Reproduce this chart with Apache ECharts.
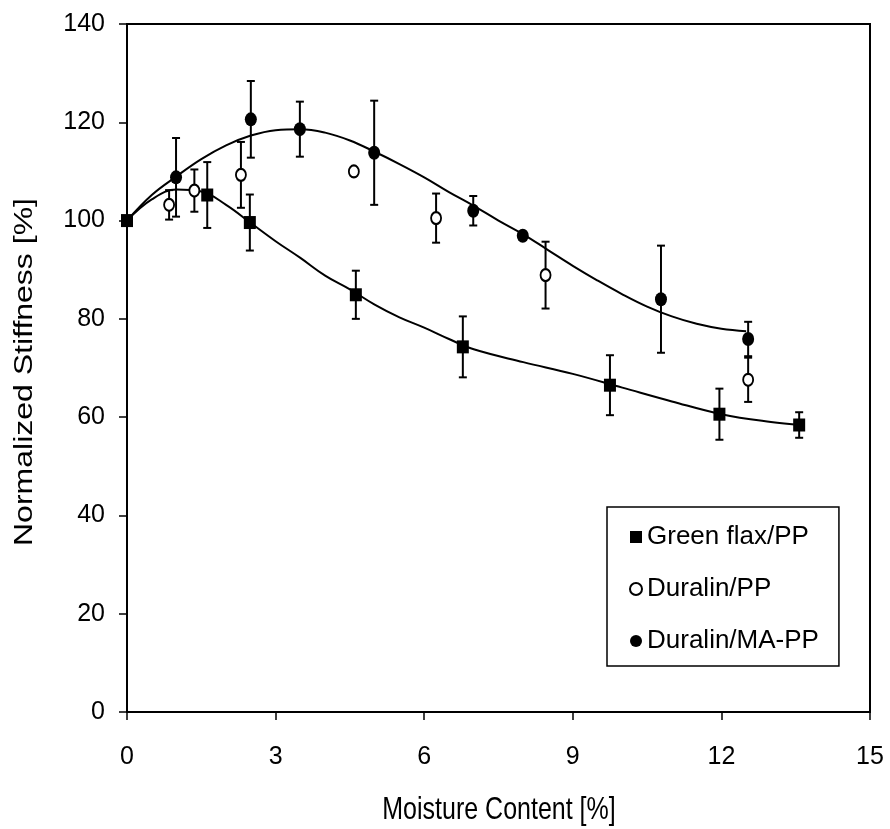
<!DOCTYPE html>
<html>
<head>
<meta charset="utf-8">
<script src="https://cdn.jsdelivr.net/npm/echarts@6/dist/echarts.min.js"></script>
<style>
html,body{margin:0;padding:0;background:#fff;}
#chart{width:890px;height:829px;}
</style>
</head>
<body>
<div id="chart"></div>
<script>
// X / Y tick labels
const xTicks = [0, 3, 6, 9, 12, 15];
const yTicks = [0, 20, 40, 60, 80, 100, 120, 140];
const xTitle = 'Moisture Content [%]';
const yTitle = 'Normalized Stiffness [%]';

// Green flax/PP (filled squares)
const flaxX   = [0, 1.62, 2.48, 4.62, 6.78, 9.75, 11.96, 13.57];
const flaxY   = [100, 105.2, 99.6, 84.9, 74.3, 66.5, 60.6, 58.4];
const flaxErr = [0, 6.7, 5.7, 4.9, 6.2, 6.1, 5.2, 2.6];

// Duralin/PP (open circles)
const durX   = [0.85, 1.36, 2.30, 4.58, 6.24, 8.45, 12.54];
const durY   = [103.2, 106.1, 109.3, 110, 100.5, 88.9, 67.6];
const durErr = [3, 4.3, 6.7, 0, 5, 6.8, 4.5];

// Duralin/MA-PP (filled circles)
const maX   = [0.99, 2.50, 3.49, 4.99, 6.99, 7.99, 10.78, 12.54];
const maY   = [108.8, 120.6, 118.6, 113.8, 102, 96.9, 84, 75.9];
const maErr = [8, 7.8, 5.6, 10.6, 3, 0.8, 10.9, 3.5];

// Trend curves
const flaxFitX = [0, 0.5, 1, 1.5, 2, 2.5, 3, 3.5, 4, 4.5, 5, 5.5, 6, 6.5, 7, 8, 9, 10, 11, 12, 13, 13.6];
const flaxFitY = [100, 104.3, 106.3, 105.9, 103.2, 99.5, 95.8, 92.4, 88.8, 86, 82.9, 80.3, 78.2, 75.9, 73.8, 71.2, 68.8, 66.0, 63.2, 60.6, 59.0, 58.4];
const maFitX = [0, 0.5, 1, 1.5, 2, 2.5, 3, 3.5, 4, 4.5, 5, 5.5, 6, 6.5, 7, 7.5, 8, 8.5, 9, 9.5, 10, 10.5, 11, 11.5, 12, 12.5];
const maFitY = [100, 105.2, 109, 112.5, 115.3, 117.3, 118.4, 118.6, 117.9, 116.3, 114, 111.5, 108.8, 105.8, 103, 100, 97.2, 94, 90.8, 87.8, 85, 82.5, 80.5, 79, 78, 77.5];

const zip = (a, b) => a.map((v, i) => [v, b[i]]);
const zip3 = (a, b, c) => a.map((v, i) => [v, b[i], c[i]]);

const FONT = 'Liberation Sans, Arial, sans-serif';

function errRender(params, api) {
  const x = api.value(0), y = api.value(1), e = api.value(2);
  if (!e) return { type: 'group', children: [] };
  const top = api.coord([x, y + e]);
  const bot = api.coord([x, y - e]);
  const hw = 4;
  const st = { stroke: '#000', lineWidth: 2 };
  return {
    type: 'group',
    children: [
      { type: 'line', shape: { x1: top[0], y1: top[1], x2: bot[0], y2: bot[1] }, style: st },
      { type: 'line', shape: { x1: top[0] - hw, y1: top[1], x2: top[0] + hw, y2: top[1] }, style: st },
      { type: 'line', shape: { x1: bot[0] - hw, y1: bot[1], x2: bot[0] + hw, y2: bot[1] }, style: st }
    ]
  };
}

const chart = echarts.init(document.getElementById('chart'), null, { renderer: 'canvas' });
chart.setOption({
  animation: false,
  backgroundColor: '#fff',
  textStyle: { fontFamily: FONT, color: '#000' },
  grid: {
    left: 127, right: 20, top: 24, bottom: 117,
    show: true, borderColor: '#000', borderWidth: 2, backgroundColor: 'transparent'
  },
  graphic: [
    {
      type: 'text', x: 499, y: 810, scaleY: 1.28,
      style: { text: xTitle, font: '25px "Liberation Sans", Arial, sans-serif', fill: '#000',
               textAlign: 'center', textVerticalAlign: 'middle', align: 'center', verticalAlign: 'middle' }
    },
    {
      type: 'text', x: 25, y: 372, rotation: Math.PI / 2, scaleX: 1.28,
      style: { text: yTitle, font: '25px "Liberation Sans", Arial, sans-serif', fill: '#000',
               textAlign: 'center', textVerticalAlign: 'middle', align: 'center', verticalAlign: 'middle' }
    }
  ],
  legend: {
    orient: 'vertical',
    left: 607, top: 507,
    data: [
      { name: 'Green flax/PP', icon: 'rect', itemStyle: { color: '#000', opacity: 1 } },
      { name: 'Duralin/PP', icon: 'circle', itemStyle: { color: '#fff', borderColor: '#000', borderWidth: 2, opacity: 1 } },
      { name: 'Duralin/MA-PP', icon: 'circle', itemStyle: { color: '#000', opacity: 1 } }
    ],
    itemWidth: 12, itemHeight: 12, itemGap: 26,
    padding: [17, 20, 12, 22],
    borderColor: '#000', borderWidth: 1.5,
    textStyle: { fontFamily: FONT, fontSize: 26, color: '#000' }
  },
  xAxis: {
    type: 'value',
    min: xTicks[0], max: xTicks[xTicks.length - 1], interval: xTicks[1] - xTicks[0],
    axisLine: { lineStyle: { color: '#000', width: 2 } },
    axisTick: { show: true, inside: false, length: 8, lineStyle: { color: '#000', width: 1.5 } },
    axisLabel: { fontFamily: FONT, fontSize: 25, color: '#000', margin: 33 },
    splitLine: { show: false }
  },
  yAxis: {
    type: 'value',
    min: yTicks[0], max: yTicks[yTicks.length - 1], interval: yTicks[1] - yTicks[0],
    axisLine: { lineStyle: { color: '#000', width: 2 } },
    axisTick: { show: true, inside: false, length: 8, lineStyle: { color: '#000', width: 1.5 } },
    axisLabel: { fontFamily: FONT, fontSize: 25, color: '#000', margin: 22 },
    splitLine: { show: false }
  },
  series: [
    {
      name: 'flaxFit', type: 'line', data: zip(flaxFitX, flaxFitY), smooth: 0.4,
      symbol: 'none', lineStyle: { color: '#000', width: 2 }, z: 1, silent: true
    },
    {
      name: 'maFit', type: 'line', data: zip(maFitX, maFitY), smooth: 0.4,
      symbol: 'none', lineStyle: { color: '#000', width: 2 }, z: 1, silent: true
    },
    { name: 'flaxErr', type: 'custom', renderItem: errRender, data: zip3(flaxX, flaxY, flaxErr), encode: { x: 0, y: 1 }, z: 2 },
    { name: 'durErr', type: 'custom', renderItem: errRender, data: zip3(durX, durY, durErr), encode: { x: 0, y: 1 }, z: 2 },
    { name: 'maErr', type: 'custom', renderItem: errRender, data: zip3(maX, maY, maErr), encode: { x: 0, y: 1 }, z: 2 },
    {
      name: 'Green flax/PP', type: 'scatter', data: zip(flaxX, flaxY),
      symbol: 'rect', symbolSize: [12, 13],
      itemStyle: { color: '#000', opacity: 1 }, z: 5
    },
    {
      name: 'Duralin/PP', type: 'scatter', data: zip(durX, durY),
      symbol: 'circle', symbolSize: [10, 12],
      itemStyle: { color: '#fff', borderColor: '#000', borderWidth: 2, opacity: 1 }, z: 5
    },
    {
      name: 'Duralin/MA-PP', type: 'scatter', data: zip(maX, maY),
      symbol: 'circle', symbolSize: [12, 14],
      itemStyle: { color: '#000', opacity: 1 }, z: 5
    }
  ]
});
</script>
</body>
</html>
